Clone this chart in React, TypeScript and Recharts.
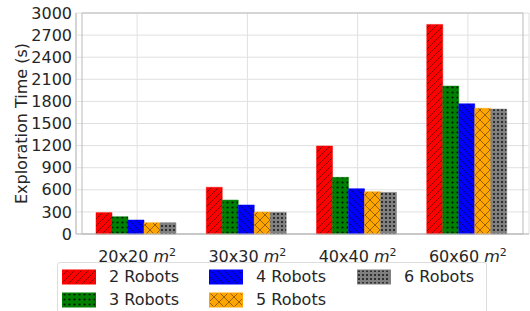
import { BarChart, Bar, XAxis, YAxis, CartesianGrid, ReferenceArea } from 'recharts';

const categories = ['20x20', '30x30', '40x40', '60x60'];
const robots2 = [290, 634, 1194, 2845];
const robots3 = [235, 461, 769, 2008];
const robots4 = [190, 394, 615, 1768];
const robots5 = [153, 298, 574, 1706];
const robots6 = [153, 295, 566, 1696];
const yTicks = [0, 300, 600, 900, 1200, 1500, 1800, 2100, 2400, 2700, 3000];

const series = [
  { key: 'r2', name: '2 Robots', values: robots2, color: '#ff0000', pattern: 'pat-r2' },
  { key: 'r3', name: '3 Robots', values: robots3, color: '#008000', pattern: 'pat-r3' },
  { key: 'r4', name: '4 Robots', values: robots4, color: '#0000ff', pattern: 'pat-r4' },
  { key: 'r5', name: '5 Robots', values: robots5, color: '#ffa500', pattern: 'pat-r5' },
  { key: 'r6', name: '6 Robots', values: robots6, color: '#808080', pattern: 'pat-r6' },
];

const data = categories.map((c, i) => {
  const row: Record<string, string | number> = { name: c };
  series.forEach((s) => {
    row[s.key] = s.values[i];
  });
  return row;
});

const FONT = 'DejaVu Sans, sans-serif';

function Patterns() {
  return (
    <defs>
      <pattern id="pat-r2" width="7" height="7" patternUnits="userSpaceOnUse">
        <rect width="7" height="7" fill="#ff0000" />
        <path d="M-1,8 L8,-1 M-2,2 L2,-2 M5,9 L9,5" stroke="#000" strokeWidth="0.7" strokeOpacity="0.7" />
      </pattern>
      <pattern id="pat-r3" width="5" height="5" patternUnits="userSpaceOnUse">
        <rect width="5" height="5" fill="#008000" />
        <circle cx="2.5" cy="2.5" r="1.1" fill="#000" fillOpacity="0.85" />
      </pattern>
      <pattern id="pat-r4" width="7" height="7" patternUnits="userSpaceOnUse">
        <rect width="7" height="7" fill="#0000ff" />
        <path d="M-1,-1 L8,8 M5,-2 L9,2 M-2,5 L2,9" stroke="#000" strokeWidth="0.7" strokeOpacity="0.7" />
      </pattern>
      <pattern id="pat-r5" width="10" height="10" patternUnits="userSpaceOnUse">
        <rect width="10" height="10" fill="#ffa500" />
        <path d="M0,0 L10,10 M10,0 L0,10" stroke="#000" strokeWidth="0.7" strokeOpacity="0.6" />
      </pattern>
      <pattern id="pat-r6" width="4" height="4" patternUnits="userSpaceOnUse">
        <rect width="4" height="4" fill="#808080" />
        <circle cx="2" cy="2" r="1" fill="#000" fillOpacity="0.85" />
      </pattern>
    </defs>
  );
}

function AreaTick({ x, y, payload }: any) {
  return (
    <text x={x} y={y} dy={20} textAnchor="middle" fill="#262626" fontSize={16} fontFamily={FONT}>
      <tspan>{payload.value} </tspan>
      <tspan fontStyle="italic">m</tspan>
      <tspan dy={-6} fontSize={11}>2</tspan>
    </text>
  );
}

function ChartLegend() {
  const order = [0, 2, 4, 1, 3];
  return (
    <div
      style={{
        position: 'absolute',
        left: 57,
        top: 262,
        width: 430,
        height: 60,
        border: '1px solid #dddddd',
        borderRadius: 3,
        background: '#fff',
        boxSizing: 'border-box',
      }}
    >
      {order.map((idx, n) => {
        const s = series[idx];
        const col = n % 3;
        const row = Math.floor(n / 3);
        const left = [4, 151, 299][col];
        const top = [5, 28][row];
        return (
          <div key={s.key} style={{ position: 'absolute', left, top, display: 'flex', alignItems: 'center' }}>
            <svg width={34} height={16} style={{ display: 'block' }}>
              <rect x={0.5} y={1} width={33} height={14} fill={`url(#${s.pattern})`} stroke={s.color} strokeWidth={1} />
            </svg>
            <span style={{ marginLeft: 13, fontFamily: FONT, fontSize: 16, color: '#262626', lineHeight: '18px' }}>{s.name}</span>
          </div>
        );
      })}
    </div>
  );
}

export default function App() {
  return (
    <div style={{ position: 'fixed', left: 0, top: 0, width: 530, height: 311, overflow: 'hidden', background: '#fff' }}>
      <BarChart
        width={530}
        height={311}
        data={data}
        margin={{ top: 13, right: 1, left: 0, bottom: 49 }}
        barCategoryGap={14}
        barGap={0}
      >
        <Patterns />
        <CartesianGrid stroke="#e0e0e0" strokeWidth={1} />
        <XAxis
          dataKey="name"
          height={28}
          tick={<AreaTick />}
          tickLine={false}
          axisLine={{ stroke: '#bbbbbb' }}
          padding={{ left: 6, right: 6 }}
          interval={0}
        />
        <YAxis
          width={76}
          domain={[0, 3000]}
          ticks={yTicks}
          interval={0}
          tickLine={false}
          tickSize={0}
          tickMargin={4}
          axisLine={{ stroke: '#bbbbbb' }}
          tick={{ fill: '#262626', fontSize: 16, fontFamily: FONT }}
          label={({ viewBox }: any) => (
            <text
              x={27}
              y={viewBox.y + viewBox.height / 2}
              transform={`rotate(-90, 27, ${viewBox.y + viewBox.height / 2})`}
              textAnchor="middle"
              fill="#262626"
              fontSize={16}
              fontFamily={FONT}
            >
              Exploration Time (s)
            </text>
          )}
        />
        <ReferenceArea y1={0} y2={3000} fill="none" stroke="#bbbbbb" ifOverflow="visible" />
        {series.map((s) => (
          <Bar
            key={s.key}
            dataKey={s.key}
            name={s.name}
            fill={`url(#${s.pattern})`}
            stroke={s.color}
            strokeWidth={0.5}
            isAnimationActive={false}
          />
        ))}
      </BarChart>
      <ChartLegend />
    </div>
  );
}
